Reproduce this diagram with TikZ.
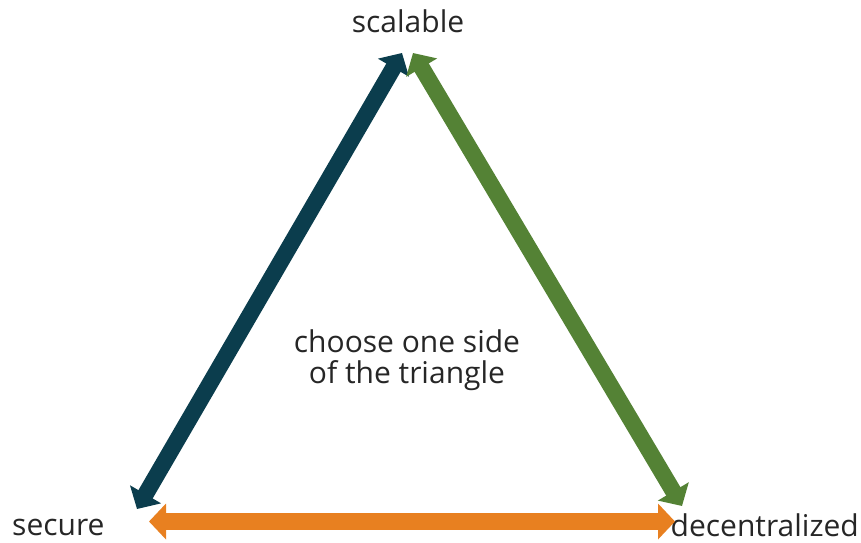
\documentclass[tikz,border=0pt]{standalone}
\usepackage{fontspec}
\setmainfont{Open Sans}
\usepackage{tikz}
\usetikzlibrary{arrows.meta,positioning}
\definecolor{sidedark}{RGB}{11,61,77}
\definecolor{sidegreen}{RGB}{84,130,53}
\definecolor{sideorange}{RGB}{232,128,32}
\definecolor{txtgray}{RGB}{38,38,38}

\begin{document}
\begin{tikzpicture}[x=1pt,y=1pt,
  every node/.style={font=\fontsize{30}{31}\selectfont,text=txtgray,inner sep=0pt},
  side/.style={{Triangle[length=17pt,width=35pt]}-{Triangle[length=17pt,width=35pt]},line width=16.5pt},
  lbl/.style={align=center}]
\useasboundingbox (0,0) rectangle (861,542);
% corners of the triangle
\node[anchor=base] (scal) at (408,509) {scalable};
\node[anchor=base west] (sec) at (12,7) {secure};
\node[anchor=base east] (dec) at (859,6) {decentralized};
\node[lbl,anchor=base] (mid) at (407,159) {choose one side\\ of the triangle};
% arrow ends
\coordinate (ts1) at (402,489);
\coordinate (ts2) at (413,489);
\coordinate (bs1) at (137,33);
\coordinate (bs2) at (149,20.5);
\coordinate (bd1) at (682,36);
\coordinate (bd2) at (675,20.5);
\draw[side,sidedark] (bs1) -- (ts1);
\draw[side,sidegreen] (ts2) -- (bd1);
\draw[side,sideorange] (bs2) -- (bd2);
\end{tikzpicture}
\end{document}
